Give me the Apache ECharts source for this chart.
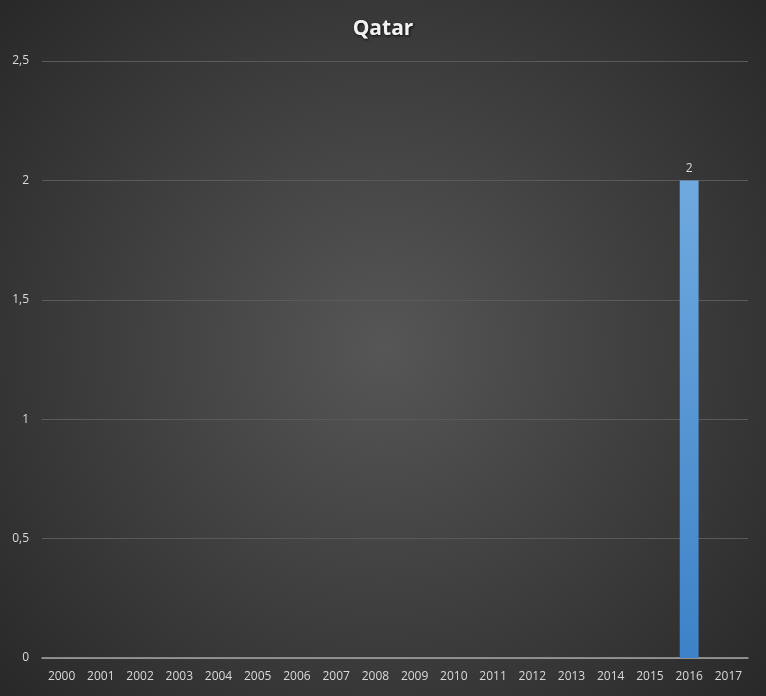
<!DOCTYPE html>
<html><head><meta charset="utf-8">
<script src="https://cdn.jsdelivr.net/npm/echarts@6/dist/echarts.min.js"></script>
<style>html,body{margin:0;padding:0;background:#404040}#c{width:766px;height:696px}</style>
</head><body><div id="c"></div>
<script>
const years = ['2000','2001','2002','2003','2004','2005','2006','2007','2008','2009','2010','2011','2012','2013','2014','2015','2016','2017'];
const values = [0,0,0,0,0,0,0,0,0,0,0,0,0,0,0,0,2,0];
const yTicks = [0,0.5,1,1.5,2,2.5];
const chart = echarts.init(document.getElementById('c'));
chart.setOption({
  backgroundColor: {type:'radial', x:0.5, y:0.5, r:0.75, colorStops:[{offset:0,color:'#565656'},{offset:1,color:'#282828'}]},
  title: {text:'Qatar', left:'center', top:14, textStyle:{color:'#f2f2f2', fontSize:21, fontWeight:'bold', fontFamily:'Open Sans', textShadowColor:'rgba(0,0,0,0.8)', textShadowBlur:3, textShadowOffsetX:1, textShadowOffsetY:1}},
  grid: {left:42, right:18, top:61, bottom:38},
  xAxis: {type:'category', data:years, axisTick:{show:false}, axisLine:{lineStyle:{color:'#a6a6a6', width:1.5}}, axisLabel:{color:'#d9d9d9', fontSize:12, fontFamily:'Open Sans', margin:13}},
  yAxis: {type:'value', min:0, max:2.5, interval:0.5, axisLine:{show:false}, axisTick:{show:false},
    splitLine:{lineStyle:{color:'#5a5a5a'}},
    axisLabel:{color:'#d9d9d9', fontSize:12, fontFamily:'Open Sans', margin:13, formatter: v => yTicks.includes(v) ? String(v).replace('.',',') : ''}},
  series: [{type:'bar', data: values.map(v => v === 0 ? null : v), barWidth:'48%',
    itemStyle:{color:{type:'linear', x:0, y:0, x2:0, y2:1, colorStops:[{offset:0,color:'#70a9df'},{offset:1,color:'#3d82c8'}]}},
    label:{show:true, position:'top', color:'#d9d9d9', fontSize:12, fontFamily:'Open Sans', distance:6}}]
});
</script></body></html>
